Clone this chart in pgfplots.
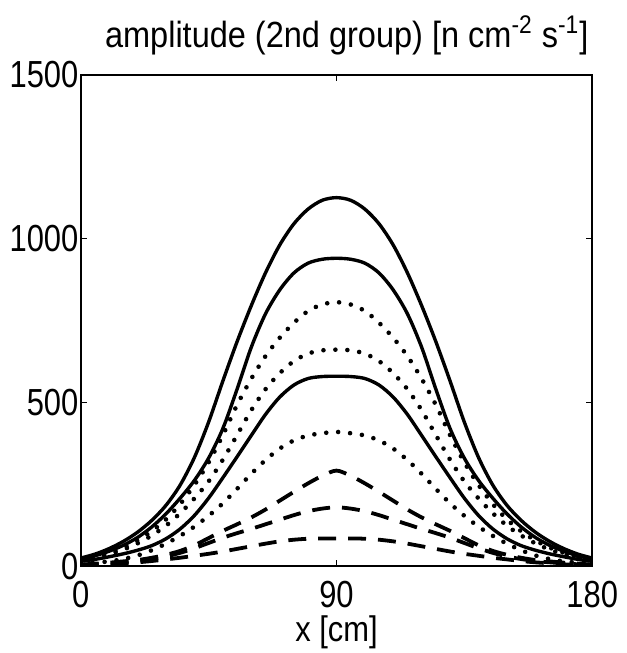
\documentclass[border=0pt]{standalone}
\usepackage{pgfplots}
\usepackage{pgfplotstable}
\pgfplotsset{compat=1.18}
\usepackage{fontspec}
\setmainfont{Liberation Sans}

\pgfplotstableread{
x s1 s2 s3 d1 d2 d3 a1 a2 a3
0 25 22 15 20 18 8 5 4 3
5 37 32 21 29 26 11 8 6 4
10 54 46 29 41 37 15 11 9 6
15 76 64 38 57 51 22 15 12 9
20 104 88 49 79 70 33 19 16 12
25 140 120 63 107 94 49 26 22 16
30 186 160 84 143 124 69 35 30 21
35 248 208 114 190 162 93 47 41 26
40 332 262 155 248 207 121 64 55 32
45 440 330 208 317 259 154 86 71 38
50 565 420 270 400 325 192 108 87 45
55 685 540 334 492 400 236 128 101 53
60 795 668 399 572 476 282 149 114 61
65 895 770 463 641 540 324 173 128 69
70 980 843 516 697 589 359 200 142 76
75 1045 895 553 743 626 384 227 156 81
80 1090 925 573 779 649 399 253 168 84
85 1117 937 579 799 659 406 276 176 85
90 1125 940 580 806 661 410 292 180 85
95 1117 937 579 799 659 406 276 176 85
100 1090 925 573 779 649 399 253 168 84
105 1045 895 553 743 626 384 227 156 81
110 980 843 516 697 589 359 200 142 76
115 895 770 463 641 540 324 173 128 69
120 795 668 399 572 476 282 149 114 61
125 685 540 334 492 400 236 128 101 53
130 565 420 270 400 325 192 108 87 45
135 440 330 208 317 259 154 86 71 38
140 332 262 155 248 207 121 64 55 32
145 248 208 114 190 162 93 47 41 26
150 186 160 84 143 124 69 35 30 21
155 140 120 63 107 94 49 26 22 16
160 104 88 49 79 70 33 19 16 12
165 76 64 38 57 51 22 15 12 9
170 54 46 29 41 37 15 11 9 6
175 37 32 21 29 26 11 8 6 4
180 25 22 15 20 18 8 5 4 3
}\datatable

\begin{document}
\begin{tikzpicture}
\begin{axis}[
  scale only axis,
  width=256.5pt, height=246.5pt,
  xmin=0, xmax=180, ymin=0, ymax=1500,
  xtick={0,90,180}, ytick={0,500,1000,1500},
  tick align=inside, tick pos=both,
  major tick length=3pt,
  axis line style={line width=0.8pt},
  every tick/.style={line width=0.6pt, black},
  /pgf/number format/assume math mode=true,
  /pgf/number format/1000 sep={},
  scaled y ticks=false,
  yticklabel style={font=\fontsize{15.5}{17}\selectfont, yscale=1.22, inner sep=0pt, xshift=-1pt},
  xticklabel style={font=\fontsize{15.5}{17}\selectfont, yscale=1.22, inner sep=0pt, yshift=-6pt},
  title={amplitude (2nd group) [n cm\textsuperscript{-2} s\textsuperscript{-1}]},
  title style={font=\fontsize{16.3}{18}\selectfont, yscale=1.12, at={(0.52,1)}, anchor=south, yshift=0pt},
  xlabel={x [cm]},
  xlabel style={font=\fontsize{15.5}{18}\selectfont, yscale=1.15, inner sep=0pt, yshift=-3pt},
  clip=true,
]
\addplot[black, line width=1.7pt, smooth] table[x=x, y=s1] {\datatable};
\addplot[black, line width=1.7pt, smooth] table[x=x, y=s2] {\datatable};
\addplot[black, line width=1.7pt, smooth] table[x=x, y=s3] {\datatable};
\addplot[black, line width=2.3pt, line cap=round, dash pattern=on 0pt off 6pt, smooth] table[x=x, y=d1] {\datatable};
\addplot[black, line width=2.3pt, line cap=round, dash pattern=on 0pt off 6pt, smooth] table[x=x, y=d2] {\datatable};
\addplot[black, line width=2.3pt, line cap=round, dash pattern=on 0pt off 6pt, smooth] table[x=x, y=d3] {\datatable};
\addplot[black, line width=1.9pt, dash pattern=on 9pt off 6pt, smooth] table[x=x, y=a1] {\datatable};
\addplot[black, line width=1.9pt, dash pattern=on 9pt off 6pt, smooth] table[x=x, y=a2] {\datatable};
\addplot[black, line width=1.9pt, dash pattern=on 9pt off 6pt, smooth] table[x=x, y=a3] {\datatable};
\end{axis}
\pgfresetboundingbox
\path[use as bounding box] ([xshift=-40.5pt,yshift=-43.5pt]current axis.south west) rectangle ([xshift=17pt,yshift=37.5pt]current axis.north east);
\end{tikzpicture}
\end{document}
